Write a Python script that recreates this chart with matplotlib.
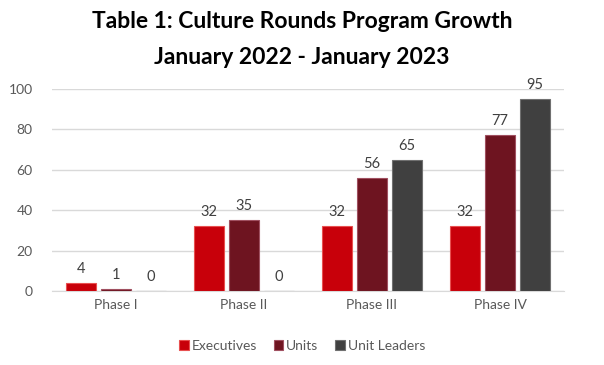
import numpy as np
import matplotlib.pyplot as plt

phases = ['Phase I', 'Phase II', 'Phase III', 'Phase IV']
executives = [4, 32, 32, 32]
units = [1, 35, 56, 77]
unit_leaders = [0, 0, 65, 95]
series_names = ['Executives', 'Units', 'Unit Leaders']
colors = ['#C8000A', '#6E1420', '#404040']
edge_colors = ['#E85050', '#A05060', '#707070']

plt.rcParams['font.family'] = ['Lato', 'DejaVu Sans']

fig = plt.figure(figsize=(6.04, 3.65), dpi=100)
ax = fig.add_axes([52/604, 1 - 291/365, 512/604, 202/365])

x = np.arange(len(phases))
w = 0.234
step = 0.273
for i, (vals, name) in enumerate(zip([executives, units, unit_leaders], series_names)):
    pos = x + (i - 1) * step
    ax.bar(pos, vals, w, color=colors[i], edgecolor=edge_colors[i],
           linewidth=0.8, label=name, zorder=3)
    for xp, v in zip(pos, vals):
        ax.text(xp, v + 3.5, str(v), ha='center', va='bottom', fontsize=10.5,
                color='#404040', zorder=4)

ax.set_xlim(-0.5, 3.5)
ax.set_ylim(0, 100)
ax.set_yticks(range(0, 101, 20))
ax.set_xticks(x)
ax.set_xticklabels(phases)
ax.grid(axis='y', color='#D9D9D9', linewidth=1, zorder=0)
for s in ['top', 'right', 'left']:
    ax.spines[s].set_visible(False)
ax.spines['bottom'].set_color('#D9D9D9')
ax.tick_params(axis='both', length=0, colors='#595959', labelsize=10)
ax.tick_params(axis='y', pad=14)
ax.tick_params(axis='x', pad=6)

fig.text(0.5, 1 - 22/365, 'Table 1: Culture Rounds Program Growth', ha='center',
         va='center', fontsize=16.5, fontweight='bold', color='#000000')
fig.text(0.5, 1 - 57/365, 'January 2022 - January 2023', ha='center',
         va='center', fontsize=16.5, fontweight='bold', color='#000000')

fig.legend(loc='center', bbox_to_anchor=(0.5, 1 - 346/365), ncol=3,
           frameon=False, fontsize=10, handlelength=0.7, handleheight=0.7,
           handletextpad=0.2, columnspacing=1.2, labelcolor='#595959')

fig.savefig('out.png', dpi=100)
